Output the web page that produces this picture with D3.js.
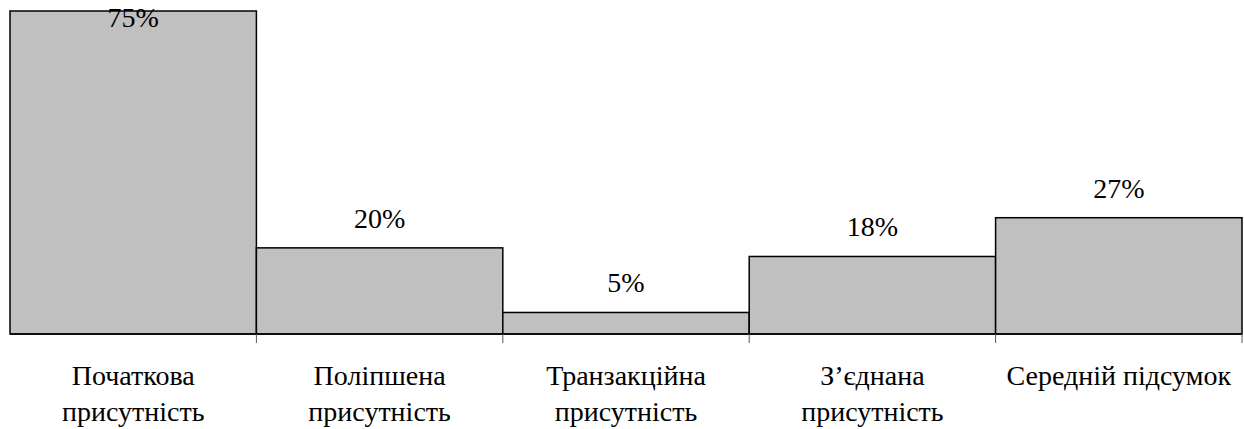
<!DOCTYPE html>
<html>
<head>
<meta charset="utf-8">
<script src="https://cdn.jsdelivr.net/npm/d3@7"></script>
<style>
  body { margin: 0; background: #fff; }
</style>
</head>
<body>
<div class="chart-wrapper"></div>
<script>
// chart data
const categories = [
  ["Початкова", "присутність"],
  ["Поліпшена", "присутність"],
  ["Транзакційна", "присутність"],
  ["З’єднана", "присутність"],
  ["Середній підсумок"]
];
const values = [75, 20, 5, 18, 27];
const valueLabels = ["75%", "20%", "5%", "18%", "27%"];

const width = 1244, height = 429;
const margin = { top: 11, right: 2, bottom: 95, left: 10 };

const svg = d3.select(".chart-wrapper")
  .append("svg")
  .attr("width", width)
  .attr("height", height);

// scales
const x = d3.scaleBand()
  .domain(d3.range(values.length))
  .range([margin.left, width - margin.right])
  .padding(0);

const y = d3.scaleLinear()
  .domain([0, d3.max(values)])
  .range([height - margin.bottom, margin.top]);

// bars
svg.selectAll(".bar")
  .data(values)
  .enter()
  .append("rect")
  .attr("class", "bar")
  .attr("x", (d, i) => x(i))
  .attr("y", d => y(d))
  .attr("width", x.bandwidth())
  .attr("height", d => y(0) - y(d))
  .style("fill", "#c0c0c0")
  .style("stroke", "#000")
  .style("stroke-width", 1.5);

// axis line + boundary ticks
const base = y(0);
svg.append("line")
  .attr("x1", margin.left).attr("x2", width - margin.right)
  .attr("y1", base).attr("y2", base)
  .style("stroke", "#000").style("stroke-width", 1.5);

const bounds = d3.range(1, values.length + 1).map(i => x.range()[0] + i * x.step());
svg.selectAll(".tick-mark")
  .data(bounds)
  .enter()
  .append("line")
  .attr("class", "tick-mark")
  .attr("x1", d => d).attr("x2", d => d)
  .attr("y1", base).attr("y2", base + 9)
  .style("stroke", "#555").style("stroke-width", 1);

// value labels (clamped so the tallest one stays on the page)
svg.selectAll(".value-label")
  .data(values)
  .enter()
  .append("text")
  .attr("class", "value-label")
  .attr("x", (d, i) => x(i) + x.bandwidth() / 2)
  .attr("y", d => Math.max(y(d) - 20, 27))
  .attr("text-anchor", "middle")
  .attr("font-family", "'Liberation Serif'")
  .attr("font-size", 28)
  .text((d, i) => valueLabels[i]);

// category labels
const catLabels = svg.selectAll(".cat-label")
  .data(categories)
  .enter()
  .append("text")
  .attr("class", "cat-label")
  .attr("x", (d, i) => x(i) + x.bandwidth() / 2)
  .attr("y", base + 51)
  .attr("text-anchor", "middle")
  .attr("font-family", "'Liberation Serif'")
  .attr("font-size", 28);

catLabels.selectAll("tspan")
  .data((d, i) => d.map(t => ({ t, i })))
  .enter()
  .append("tspan")
  .attr("x", d => x(d.i) + x.bandwidth() / 2)
  .attr("dy", (d, j) => j === 0 ? 0 : 36)
  .text(d => d.t);
</script>
</body>
</html>
